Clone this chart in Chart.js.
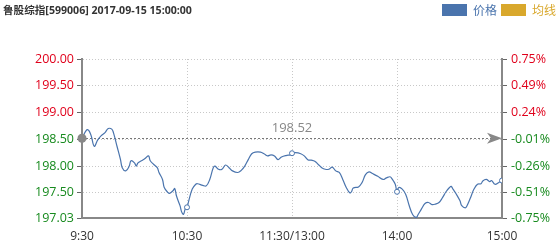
<!DOCTYPE html>
<html>
<head>
<meta charset="utf-8">
<script src="https://cdn.jsdelivr.net/npm/chart.js@4/dist/chart.umd.min.js"></script>
<style>
  html, body { margin: 0; padding: 0; background: #fff; }
</style>
</head>
<body>
<canvas id="cntIndice" width="560" height="249"></canvas>
<script>
var titulo = '鲁股综指[599006] 2017-09-15 15:00:00';
var preCierre = 198.52;

// minutes since 9:30 (trading minutes, 11:30/13:00 joined) and price
var minutos = [0, 3, 5, 7, 9, 11, 13, 15, 17, 18, 20, 22, 23, 25, 27, 28, 30, 31, 32, 34,
  36, 38, 39, 41, 43, 44, 46, 47, 49, 50, 52, 53, 54, 56, 57, 58, 59, 60, 61, 63,
  65, 66, 69, 71, 73, 75, 76, 78, 80, 82, 84, 86, 89, 91, 93, 95, 97, 99, 102, 104,
  106, 108, 110, 112, 114, 117, 119, 120, 122, 125, 127, 129, 131, 133, 135, 137, 139, 141, 143, 145,
  147, 149, 151, 153, 154, 155, 158, 160, 162, 164, 166, 169, 172, 174, 176, 177, 179, 180, 181, 183,
  185, 187, 189, 191, 192, 194, 196, 198, 200, 202, 204, 206, 208, 210, 211, 212, 214, 216, 217, 219,
  220, 222, 224, 226, 228, 229, 231, 233, 234, 236, 238, 240];
var precios = [198.52, 198.68, 198.59, 198.37, 198.49, 198.57, 198.62, 198.70, 198.69, 198.62, 198.37, 198.12, 197.97, 197.91, 198.00, 198.10, 198.06, 198.00, 198.06, 198.10,
  198.14, 198.19, 198.10, 198.03, 197.97, 197.88, 197.75, 197.60, 197.51, 197.49, 197.54, 197.58, 197.44, 197.26, 197.14, 197.10, 197.20, 197.23, 197.35, 197.57,
  197.66, 197.67, 197.64, 197.63, 197.75, 197.97, 198.00, 197.94, 197.94, 198.02, 197.97, 197.91, 197.88, 197.92, 198.00, 198.12, 198.23, 198.26, 198.26, 198.23,
  198.19, 198.21, 198.19, 198.12, 198.17, 198.20, 198.21, 198.24, 198.25, 198.23, 198.19, 198.12, 198.11, 198.09, 198.03, 197.97, 197.94, 197.94, 197.98, 197.91,
  197.88, 197.75, 197.60, 197.50, 197.52, 197.59, 197.61, 197.69, 197.84, 197.89, 197.86, 197.81, 197.75, 197.78, 197.80, 197.77, 197.66, 197.52, 197.60, 197.57,
  197.47, 197.26, 197.09, 197.04, 197.09, 197.20, 197.30, 197.32, 197.28, 197.29, 197.32, 197.41, 197.52, 197.60, 197.62, 197.57, 197.47, 197.35, 197.26, 197.22,
  197.26, 197.41, 197.57, 197.66, 197.67, 197.72, 197.75, 197.71, 197.73, 197.66, 197.69, 197.73];

var ticksX = [0, 60, 120, 180, 240];
var etiquetasX = ['9:30', '10:30', '11:30/13:00', '14:00', '15:00'];
var ticksY = [200.00, 199.50, 199.00, 198.50, 198.00, 197.50, 197.03];
var marcasHora = [60, 120, 180, 240];

var colorPrecio = '#4a74ad';
var colorMedia = '#d9a82c';
var rojo = '#e0001b';
var verde = '#178a1e';

function colorValor(v) {
  return v > preCierre ? rojo : verde;
}

var puntos = minutos.map(function(m, i) { return { x: m, y: precios[i] }; });

// leave room under the legend, like the original header
var pluginEspacioLeyenda = {
  id: 'espacioLeyenda',
  beforeInit: function(chart) {
    var fitOrig = chart.legend.fit;
    chart.legend.fit = function() {
      fitOrig.bind(chart.legend)();
      this.height += 33;
    };
  }
};

var pluginReferencia = {
  id: 'referencia',
  beforeDatasetsDraw: function(chart) {
    var ctx = chart.ctx, area = chart.chartArea;
    var y = Math.round(chart.scales.y.getPixelForValue(preCierre)) + 0.5;
    ctx.save();
    ctx.strokeStyle = '#777';
    ctx.lineWidth = 1;
    ctx.setLineDash([2, 2]);
    ctx.beginPath();
    ctx.moveTo(area.left, y);
    ctx.lineTo(area.right, y);
    ctx.stroke();
    ctx.restore();
  },
  afterDraw: function(chart) {
    var ctx = chart.ctx, area = chart.chartArea;
    var y = chart.scales.y.getPixelForValue(preCierre);
    ctx.save();
    ctx.fillStyle = '#888';
    ctx.beginPath();
    ctx.arc(area.left, y, 4.5, 0, Math.PI * 2);
    ctx.fill();
    ctx.beginPath();
    ctx.moveTo(area.right, y);
    ctx.lineTo(area.right - 15, y - 5.5);
    ctx.lineTo(area.right - 11, y);
    ctx.lineTo(area.right - 15, y + 5.5);
    ctx.closePath();
    ctx.fill();
    ctx.font = '13px "Open Sans", sans-serif';
    ctx.fillStyle = '#888';
    ctx.textAlign = 'center';
    ctx.textBaseline = 'middle';
    ctx.fillText(preCierre.toFixed(2), chart.scales.x.getPixelForValue(120), y - 10);
    // title
    ctx.font = 'bold 10.6px "Open Sans", "Noto Sans CJK SC", sans-serif';
    ctx.fillStyle = '#333';
    ctx.textAlign = 'left';
    ctx.fillText(titulo, 3, 11);
    ctx.restore();
  }
};

var ctx = document.getElementById('cntIndice').getContext('2d');
window.graficaIndice = new Chart(ctx, {
  type: 'line',
  data: {
    datasets: [{
      label: '价格',
      data: puntos,
      borderColor: colorPrecio,
      backgroundColor: colorPrecio,
      borderWidth: 1.2,
      tension: 0.4,
      pointRadius: function(c) { return marcasHora.indexOf(c.raw ? c.raw.x : -1) >= 0 ? 2.5 : 0; },
      pointBackgroundColor: '#fff',
      pointBorderColor: colorPrecio,
      pointBorderWidth: 1,
      fill: false
    }, {
      label: '均线',
      data: [],
      borderColor: colorMedia,
      backgroundColor: colorMedia,
      borderWidth: 1.2
    }]
  },
  options: {
    responsive: false,
    animation: false,
    layout: { padding: { top: 0, left: 0, right: 0, bottom: 0 } },
    plugins: {
      tooltip: { enabled: false },
      legend: {
        position: 'top',
        align: 'end',
        labels: {
          boxWidth: 25,
          boxHeight: 12,
          padding: 4,
          font: { size: 12, family: '"Noto Sans CJK SC", sans-serif' },
          generateLabels: function(chart) {
            var items = Chart.defaults.plugins.legend.labels.generateLabels(chart);
            items.forEach(function(it) { it.fontColor = it.strokeStyle; it.lineWidth = 0; });
            return items;
          }
        }
      }
    },
    scales: {
      x: {
        type: 'linear',
        min: 0,
        max: 240,
        afterBuildTicks: function(s) { s.ticks = ticksX.map(function(v) { return { value: v }; }); },
        afterFit: function(s) { s.height = 31; },
        ticks: {
          autoSkip: false,
          maxRotation: 0,
          padding: 11,
          color: '#333',
          font: { size: 12, family: '"Open Sans", sans-serif' },
          callback: function(v) { return etiquetasX[ticksX.indexOf(v)]; }
        },
        grid: { color: '#c8c8c8', drawTicks: false },
        border: { color: '#888', width: 2, dash: [1, 2] }
      },
      y: {
        position: 'left',
        min: 197.03,
        max: 200.00,
        afterBuildTicks: function(s) { s.ticks = ticksY.map(function(v) { return { value: v }; }); },
        afterFit: function(s) { s.width = 82; },
        ticks: {
          padding: 3,
          color: function(c) { return colorValor(c.tick.value); },
          font: { size: 12.5, family: '"Open Sans", sans-serif' },
          callback: function(v) { return v.toFixed(2); }
        },
        grid: { color: '#c8c8c8', tickColor: '#666', tickLength: 5, tickBorderDash: [] },
        border: { color: '#888', width: 2, dash: [1, 2] }
      },
      y2: {
        position: 'right',
        min: 197.03,
        max: 200.00,
        afterBuildTicks: function(s) { s.ticks = ticksY.map(function(v) { return { value: v }; }); },
        afterFit: function(s) { s.width = 58; },
        ticks: {
          padding: 4,
          color: function(c) { return colorValor(c.tick.value); },
          font: { size: 12.5, family: '"Open Sans", sans-serif' },
          callback: function(v) { return ((v - preCierre) / preCierre * 100).toFixed(2) + '%'; }
        },
        grid: { drawOnChartArea: false, tickColor: '#666', tickLength: 5 },
        border: { color: '#888', width: 2 }
      }
    }
  },
  plugins: [pluginEspacioLeyenda, pluginReferencia]
});
</script>
</body>
</html>
